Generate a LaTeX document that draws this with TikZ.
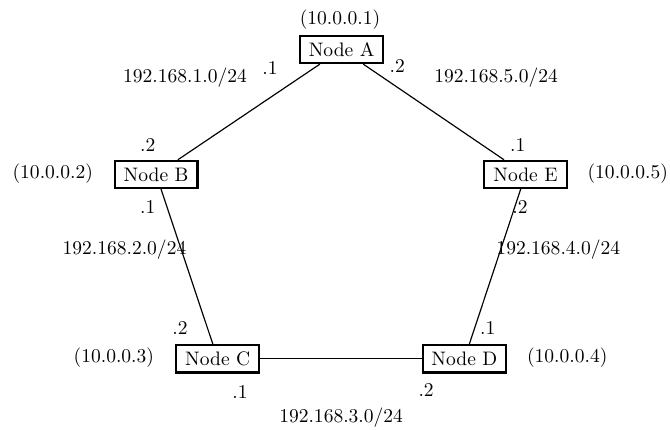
\documentclass[tikz,border=0pt]{standalone}
\usepackage{tikz}
\usetikzlibrary{positioning}

\begin{document}
\begin{tikzpicture}[
          nd/.style={rectangle, draw, line width=1.1pt,
                     minimum width=1.49cm, minimum height=0.49cm,
                     inner sep=2pt},
          lnk/.style={draw, line width=0.6pt},
          lbl/.style={inner sep=0pt}
        ]
        \useasboundingbox (0,0) rectangle (12.06,7.74);

        % routers
        \node[nd] (nA) at (6.15, 6.85) {Node A};
        \node[nd] (nB) at (2.81, 4.60) {Node B};
        \node[nd] (nE) at (9.46, 4.60) {Node E};
        \node[nd] (nC) at (3.92, 1.28) {Node C};
        \node[nd] (nD) at (8.36, 1.28) {Node D};

        % links
        \draw[lnk] (nA)--(nB); \draw[lnk] (nB)--(nC);
        \draw[lnk] (nC)--(nD); \draw[lnk] (nD)--(nE);
        \draw[lnk] (nE)--(nA);

        % loopback addresses
        \node[lbl] (ipA) at (6.12, 7.38) {(10.0.0.1)};
        \node[lbl] (ipB) at (0.95, 4.61) {(10.0.0.2)};
        \node[lbl] (ipC) at (2.05, 1.30) {(10.0.0.3)};
        \node[lbl] (ipD) at (10.21, 1.30) {(10.0.0.4)};
        \node[lbl] (ipE) at (11.30, 4.61) {(10.0.0.5)};

        % subnets
        \node[lbl] (netAB) at (3.33, 6.34) {192.168.1.0/24};
        \node[lbl] (netBC) at (2.24, 3.24) {192.168.2.0/24};
        \node[lbl] (netCD) at (6.14, 0.23) {192.168.3.0/24};
        \node[lbl] (netDE) at (10.05, 3.24) {192.168.4.0/24};
        \node[lbl] (netEA) at (8.93, 6.34) {192.168.5.0/24};

        % interface suffixes
        \node[lbl] (ifAB) at (4.86, 6.52) {.1};
        \node[lbl] (ifAE) at (7.15, 6.55) {.2};
        \node[lbl] (ifBA) at (2.66, 5.13) {.2};
        \node[lbl] (ifBC) at (2.66, 4.01) {.1};
        \node[lbl] (ifEA) at (9.32, 5.13) {.1};
        \node[lbl] (ifED) at (9.36, 4.01) {.2};
        \node[lbl] (ifCB) at (3.24, 1.84) {.2};
        \node[lbl] (ifCD) at (4.32, 0.68) {.1};
        \node[lbl] (ifDE) at (8.78, 1.84) {.1};
        \node[lbl] (ifDC) at (7.67, 0.72) {.2};
      \end{tikzpicture}
\end{document}
